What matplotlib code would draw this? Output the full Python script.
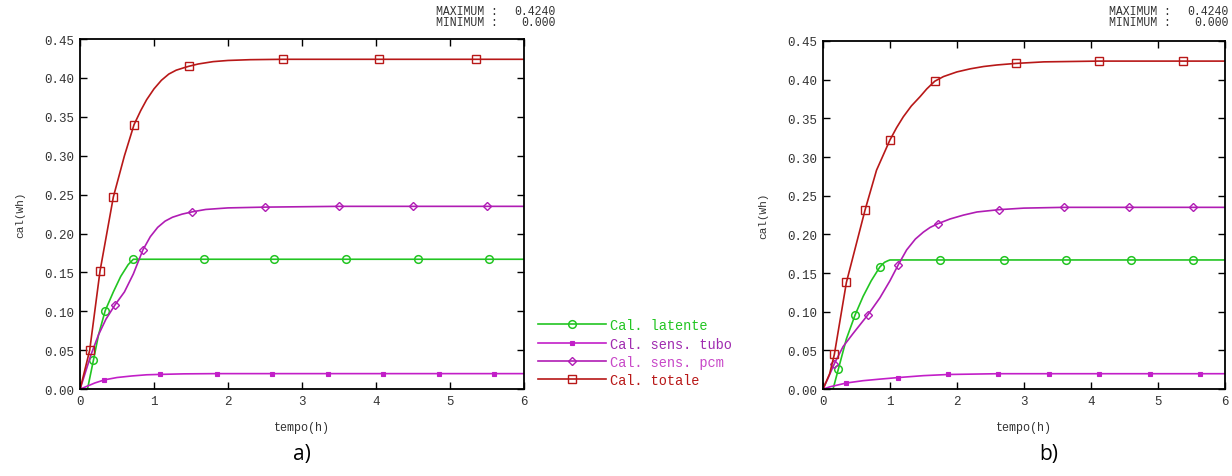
import matplotlib
matplotlib.use("Agg")
import matplotlib.pyplot as plt

# ---- data (time in h, cal in Wh) ----
# panel a)
a_tot_t = [0, 0.13, 0.27, 0.45, 0.6, 0.73, 0.82, 0.9, 1.0, 1.1, 1.2, 1.3, 1.4, 1.47, 1.6, 1.8, 2.0, 2.3, 2.75, 4.05, 5.35, 6.0]
a_tot_v = [0, 0.050, 0.152, 0.247, 0.300, 0.340, 0.358, 0.372, 0.386, 0.397, 0.405, 0.410, 0.413, 0.415, 0.418, 0.421, 0.4225, 0.4235, 0.424, 0.424, 0.424, 0.424]
a_tot_m = [1, 2, 3, 5, 13, 18, 19, 20]

a_pcm_t = [0, 0.1, 0.15, 0.25, 0.35, 0.47, 0.6, 0.72, 0.85, 0.95, 1.05, 1.15, 1.25, 1.38, 1.52, 1.7, 2.0, 2.5, 3.5, 4.5, 5.5, 6.0]
a_pcm_v = [0, 0.030, 0.045, 0.070, 0.090, 0.108, 0.125, 0.148, 0.179, 0.196, 0.208, 0.216, 0.221, 0.225, 0.228, 0.231, 0.233, 0.234, 0.235, 0.235, 0.235, 0.235]
a_pcm_m = [5, 8, 14, 17, 18, 19, 20]

a_lat_t = [0, 0.1, 0.18, 0.25, 0.34, 0.45, 0.55, 0.65, 0.72, 1.67, 2.63, 3.6, 4.57, 5.53, 6.0]
a_lat_v = [0, 0.0, 0.037, 0.070, 0.101, 0.125, 0.145, 0.160, 0.167, 0.167, 0.167, 0.167, 0.167, 0.167, 0.167]
a_lat_m = [2, 4, 8, 9, 10, 11, 12, 13]

a_tub_t = [0, 0.1, 0.2, 0.33, 0.5, 0.7, 0.9, 1.08, 1.4, 1.85, 2.6, 3.35, 4.1, 4.85, 5.6, 6.0]
a_tub_v = [0, 0.004, 0.008, 0.012, 0.015, 0.017, 0.0185, 0.019, 0.0197, 0.020, 0.020, 0.020, 0.020, 0.020, 0.020, 0.020]
a_tub_m = [3, 7, 9, 10, 11, 12, 13, 14]

# panel b)
b_tot_t = [0, 0.1, 0.17, 0.35, 0.63, 0.8, 1.0, 1.1, 1.2, 1.32, 1.45, 1.55, 1.67, 1.8, 2.0, 2.2, 2.4, 2.6, 2.88, 3.3, 4.12, 5.38, 6.0]
b_tot_v = [0, 0.020, 0.045, 0.138, 0.232, 0.283, 0.322, 0.338, 0.352, 0.366, 0.378, 0.388, 0.398, 0.404, 0.410, 0.414, 0.417, 0.419, 0.421, 0.423, 0.424, 0.424, 0.424]
b_tot_m = [2, 3, 4, 6, 12, 18, 20, 21]

b_pcm_t = [0, 0.08, 0.17, 0.3, 0.45, 0.67, 0.85, 1.0, 1.12, 1.25, 1.38, 1.5, 1.6, 1.72, 1.9, 2.1, 2.3, 2.63, 3.0, 3.6, 4.57, 5.53, 6.0]
b_pcm_v = [0, 0.015, 0.033, 0.055, 0.072, 0.096, 0.118, 0.140, 0.160, 0.180, 0.194, 0.203, 0.209, 0.214, 0.220, 0.225, 0.229, 0.232, 0.234, 0.235, 0.235, 0.235, 0.235]
b_pcm_m = [2, 5, 8, 13, 17, 19, 20, 21]

b_lat_t = [0, 0.15, 0.23, 0.35, 0.48, 0.6, 0.72, 0.85, 0.92, 0.97, 1.0, 1.75, 2.7, 3.63, 4.6, 5.53, 6.0]
b_lat_v = [0, 0.0, 0.026, 0.065, 0.096, 0.120, 0.140, 0.158, 0.164, 0.166, 0.167, 0.167, 0.167, 0.167, 0.167, 0.167, 0.167]
b_lat_m = [2, 4, 7, 11, 12, 13, 14, 15]

b_tub_t = [0, 0.1, 0.2, 0.35, 0.6, 0.85, 1.12, 1.5, 1.87, 2.62, 3.37, 4.12, 4.88, 5.63, 6.0]
b_tub_v = [0, 0.003, 0.005, 0.008, 0.011, 0.013, 0.015, 0.0175, 0.019, 0.020, 0.020, 0.020, 0.020, 0.020, 0.020]
b_tub_m = [3, 6, 8, 9, 10, 11, 12, 13]

labels = ["Cal. latente", "Cal. sens. tubo", "Cal. sens. pcm", "Cal. totale"]
y_ticks = [0.00, 0.05, 0.10, 0.15, 0.20, 0.25, 0.30, 0.35, 0.40, 0.45]
x_ticks = [0, 1, 2, 3, 4, 5, 6]

c_lat = "#22c522"
c_tub = "#c21fc8"
c_pcm = "#b01cb4"
c_tot = "#b81818"
mono = "Liberation Mono"


def draw_panel(ax, lat, tub, pcm, tot):
    ax.plot(lat[0], lat[1], "-", color=c_lat, lw=1.2, marker="o", ms=5.5,
            mfc="none", mew=1.1, markevery=lat[2], label=labels[0])
    ax.plot(tub[0], tub[1], "-", color=c_tub, lw=1.2, marker="s", ms=3.2,
            mfc=c_tub, mew=0.8, markevery=tub[2], label=labels[1])
    ax.plot(pcm[0], pcm[1], "-", color=c_pcm, lw=1.2, marker="D", ms=4,
            mfc="none", mew=1.0, markevery=pcm[2], label=labels[2])
    ax.plot(tot[0], tot[1], "-", color=c_tot, lw=1.2, marker="s", ms=5.5,
            mfc="none", mew=1.0, markevery=tot[2], label=labels[3])
    ax.set_xlim(0, 6)
    ax.set_ylim(0, 0.45)
    ax.set_xticks(x_ticks)
    ax.set_yticks(y_ticks)
    ax.set_xticklabels([str(v) for v in x_ticks], fontfamily=mono, fontsize=9, color="#333333")
    ax.set_yticklabels(["%.2f" % v for v in y_ticks], fontfamily=mono, fontsize=9, color="#333333")
    ax.tick_params(direction="in", length=5, width=1, top=True, right=True, pad=4)
    for s in ax.spines.values():
        s.set_linewidth(1.3)
    ax.set_xlabel("tempo(h)", fontfamily=mono, fontsize=8.5, color="#333333", labelpad=10)
    ax.set_ylabel("cal(Wh)", fontfamily=mono, fontsize=8, color="#333333", labelpad=14)


fig = plt.figure(figsize=(12.32, 4.77), dpi=100)
ax_a = fig.add_axes([0.065, 0.182, 0.360, 0.734])
ax_b = fig.add_axes([0.668, 0.182, 0.326, 0.730])

draw_panel(ax_a, (a_lat_t, a_lat_v, a_lat_m), (a_tub_t, a_tub_v, a_tub_m),
           (a_pcm_t, a_pcm_v, a_pcm_m), (a_tot_t, a_tot_v, a_tot_m))
draw_panel(ax_b, (b_lat_t, b_lat_v, b_lat_m), (b_tub_t, b_tub_v, b_tub_m),
           (b_pcm_t, b_pcm_v, b_pcm_m), (b_tot_t, b_tot_v, b_tot_m))

leg = ax_a.legend(loc="lower left", bbox_to_anchor=(1.02, -0.01), frameon=False,
                  prop={"family": mono, "size": 9.8}, handlelength=5.0,
                  handletextpad=0.3, labelspacing=0.32, borderaxespad=0)
for txt, col in zip(leg.get_texts(), [c_lat, "#a02cb0", "#c848c8", c_tot]):
    txt.set_color(col)

# max / min annotation above each panel
for x_right in (0.451, 0.997):
    fig.text(x_right - 0.097, 0.940, "MAXIMUM :\nMINIMUM :", fontfamily=mono,
             fontsize=8.3, color="#333333", ha="left", va="bottom", linespacing=0.8)
    fig.text(x_right, 0.940, "0.4240\n0.000", fontfamily=mono, fontsize=8.3,
             color="#333333", ha="right", va="bottom", multialignment="right",
             linespacing=0.8)

fig.text(0.245, 0.025, "a)", fontfamily="Open Sans", fontsize=15, ha="center", va="bottom")
fig.text(0.851, 0.025, "b)", fontfamily="Open Sans", fontsize=15, ha="center", va="bottom")

fig.savefig("out.png", dpi=100)
